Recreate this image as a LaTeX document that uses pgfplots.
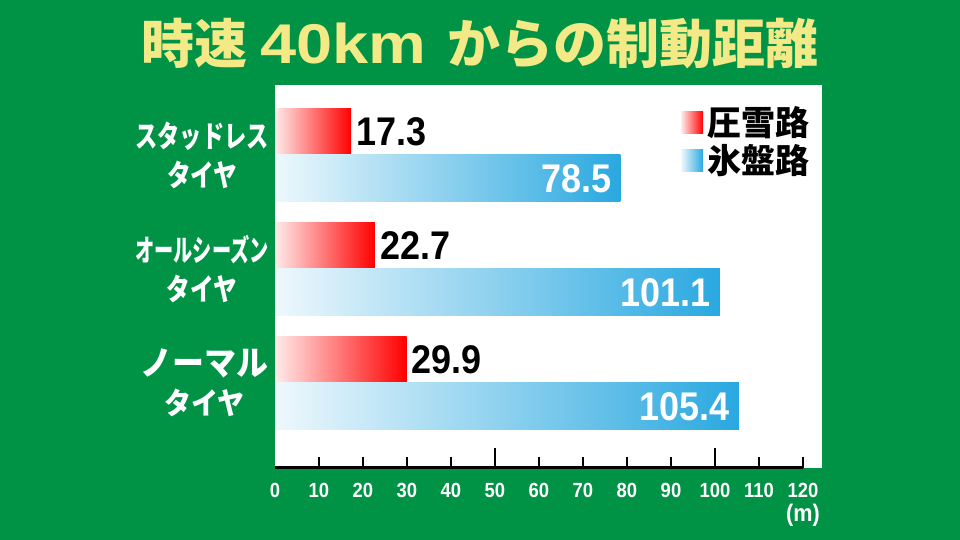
\documentclass[border=0pt]{standalone}
\usepackage{pgfplots}
\pgfplotsset{compat=1.18}
\usepackage{fontspec}
\setmainfont{Liberation Sans}
\newfontfamily\cjk{Noto Sans CJK JP}
\newfontfamily\numv{Liberation Sans}[FakeStretch=0.9]
\newfontfamily\numt{Liberation Sans}[FakeStretch=0.9]
\definecolor{bg}{RGB}{0,146,69}
\definecolor{ttl}{RGB}{243,233,135}
\definecolor{bl}{RGB}{41,168,224}
\definecolor{rd}{RGB}{255,0,0}
\begin{document}
\begin{tikzpicture}
\fill[bg] (0,0) rectangle (960pt,540pt);
\useasboundingbox (0,0) rectangle (960pt,540pt);
\node[anchor=base west, inner sep=0pt, text=ttl] at (141pt,476.5pt)
  {{\cjk\bfseries\fontsize{53}{53}\selectfont 時速}\hspace{13pt}{\bfseries\fontsize{56}{56}\selectfont\scalebox{1.16}[1]{40km}}\hspace{21pt}{\cjk\bfseries\fontsize{53}{53}\selectfont からの制動距離}};
\begin{axis}[
  at={(275pt,72pt)}, anchor=south west,
  scale only axis, width=547pt, height=383pt,
  xmin=0, xmax=124.32, ymin=0.2544, ymax=3.614,
  axis background/.style={fill=white},
  axis line style={draw=none},
  clip=false,
  /pgf/number format/assume math mode=true,
  ytick={1,2,3},
  yticklabels={
    {\fontsize{34}{37}\selectfont\scalebox{0.94}[1]{ノーマル}\\\scalebox{0.9}[1]{タイヤ}},
    {\scalebox{0.64}[1]{オールシーズン}\\\scalebox{0.79}[1]{タイヤ}},
    {\scalebox{0.74}[1]{スタッドレス}\\\scalebox{0.79}[1]{タイヤ}}},
  ytick style={draw=none},
  yticklabel style={text=white, align=center, inner sep=0pt, xshift=-6pt,
    font=\cjk\bfseries\fontsize{30}{39}\selectfont},
  xtick pos=left,
  tick align=inside,
  xtick={10,20,...,120},
  minor xtick={50,100},
  major tick length=11pt,
  minor tick length=20pt,
  every tick/.style={black, line width=2pt},
  extra x ticks={0},
  extra x tick style={major tick length=0pt},
  xticklabel style={text=white, inner sep=0pt, yshift=-15pt,
    font=\numt\bfseries\fontsize{20.5}{20.5}\selectfont},
  legend style={draw=none, fill=none, inner sep=0pt, at={(0.7422,0.9531)}, anchor=north west,
    font=\cjk\bfseries\fontsize{34}{34}\selectfont, nodes={inner sep=0pt},
    row sep=0pt, column sep=4.6pt},
  legend cell align=left,
  redlab/.style={point meta=x,
    nodes near coords={\pgfmathprintnumber[fixed,fixed zerofill,precision=1]{\pgfplotspointmeta}},
    every node near coord/.append style={anchor=west, inner sep=0pt, xshift=5pt, yshift=23.4pt,
      text=black, font=\numv\bfseries\fontsize{40}{40}\selectfont}},
  bluelab/.style={point meta=x,
    nodes near coords={\pgfmathprintnumber[fixed,fixed zerofill,precision=1]{\pgfplotspointmeta}},
    every node near coord/.append style={anchor=east, inner sep=0pt, xshift=-9pt, yshift=-23.4pt,
      text=white, font=\numv\bfseries\fontsize{40}{40}\selectfont}},
]
\addlegendimage{draw=none, legend image code/.code={\path (0pt,-19pt) rectangle (22pt,19pt);\fill[draw=none, left color=rd!8, right color=rd] (0pt,-11pt) rectangle (22pt,11pt);}}
\addlegendentry{圧雪路}
\addlegendimage{draw=none, legend image code/.code={\path (0pt,-19pt) rectangle (22pt,19pt);\fill[draw=none, left color=bl!8, right color=bl] (0pt,-11pt) rectangle (22pt,11pt);}}
\addlegendentry{氷盤路}
% 圧雪路 (red, upper bars)
\addplot[xbar, bar width=0.41, bar shift=0.205, draw=none, left color=rd!8, right color=rd, redlab, forget plot]
  coordinates {(17.3,3)};
\addplot[xbar, bar width=0.41, bar shift=0.205, draw=none, left color=rd!8, right color=rd, redlab, forget plot]
  coordinates {(22.7,2)};
\addplot[xbar, bar width=0.41, bar shift=0.205, draw=none, left color=rd!8, right color=rd, redlab, forget plot]
  coordinates {(29.9,1)};
% 氷盤路 (blue, lower bars)
\addplot[xbar, bar width=0.41, bar shift=-0.205, draw=none, left color=bl!8, right color=bl, bluelab, forget plot]
  coordinates {(78.5,3)};
\addplot[xbar, bar width=0.41, bar shift=-0.205, draw=none, left color=bl!8, right color=bl, bluelab, forget plot]
  coordinates {(101.1,2)};
\addplot[xbar, bar width=0.41, bar shift=-0.205, draw=none, left color=bl!8, right color=bl, bluelab, forget plot]
  coordinates {(105.4,1)};
\draw[black, line width=3pt] (axis cs:0,0.2544) -- (axis cs:120,0.2544);
\node[text=white, inner sep=0pt, font=\numt\bfseries\fontsize{24}{24}\selectfont]
  at (axis cs:120,0.2544) [yshift=-47pt] {(m)};
\end{axis}
\end{tikzpicture}
\end{document}
